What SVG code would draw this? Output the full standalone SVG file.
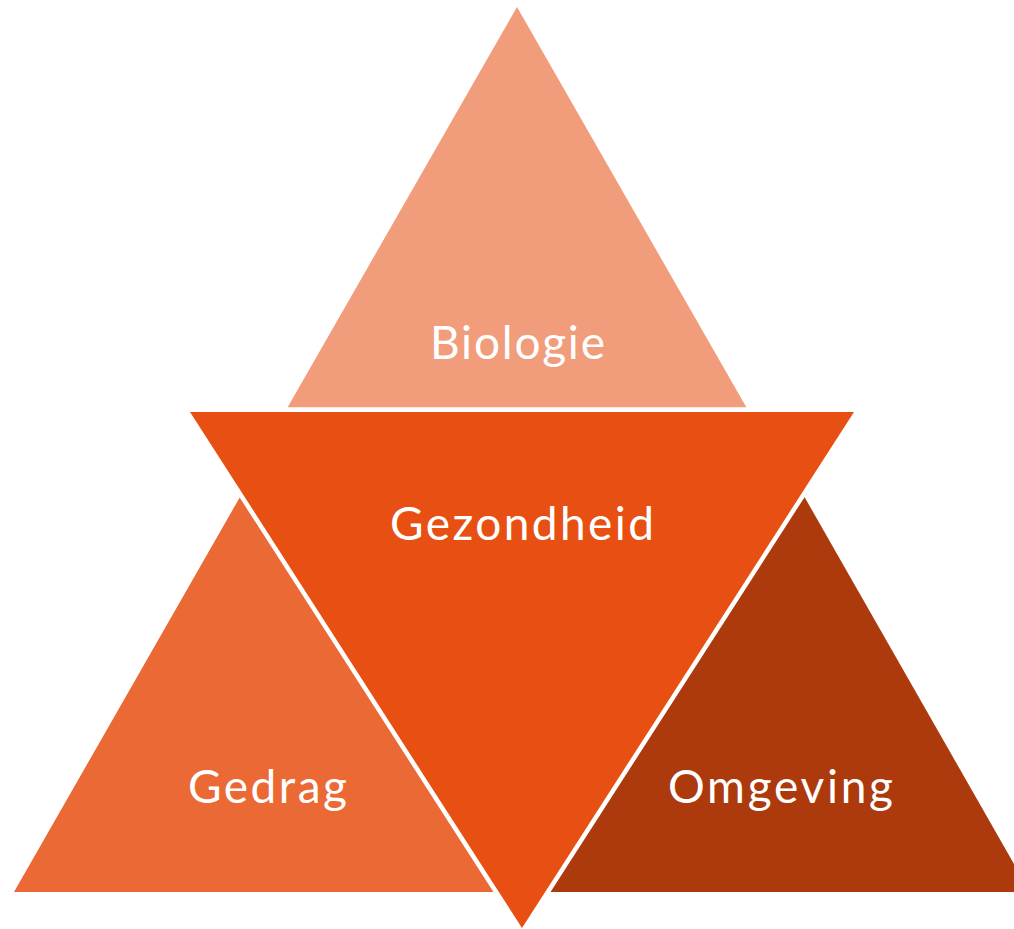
<svg xmlns="http://www.w3.org/2000/svg" width="1014" height="929" viewBox="0 0 1014 929">
  <style>
    .lbl { font-family: Lato, "Open Sans", "Liberation Sans", sans-serif; font-size: 46px; fill: #ffffff; text-anchor: middle; }
  </style>
  <rect width="1014" height="929" fill="#ffffff"/>
  <g id="biologie">
    <polygon points="517,7 746.5,407.5 287.5,407.5" fill="#F19C7B"/>
    <text class="lbl" x="517.5" y="359" textLength="175" lengthAdjust="spacing">Biologie</text>
  </g>
  <g id="gedrag">
    <polygon points="240,497 540,892 14,892" fill="#EA6934"/>
    <text class="lbl" x="267.5" y="803" textLength="159" lengthAdjust="spacing">Gedrag</text>
  </g>
  <g id="omgeving">
    <polygon points="804.5,497 1030,892 505,892" fill="#AD3A0D"/>
    <text class="lbl" x="780.5" y="803" textLength="225" lengthAdjust="spacing">Omgeving</text>
  </g>
  <g id="gezondheid">
    <polygon points="190,412 854,412 522,928" fill="none" stroke="#ffffff" stroke-width="9" stroke-linejoin="miter"/>
    <polygon points="190,412 854,412 522,928" fill="#E75012"/>
    <text class="lbl" x="522" y="540" textLength="264" lengthAdjust="spacing">Gezondheid</text>
  </g>
  <g id="connectors"></g>
</svg>
